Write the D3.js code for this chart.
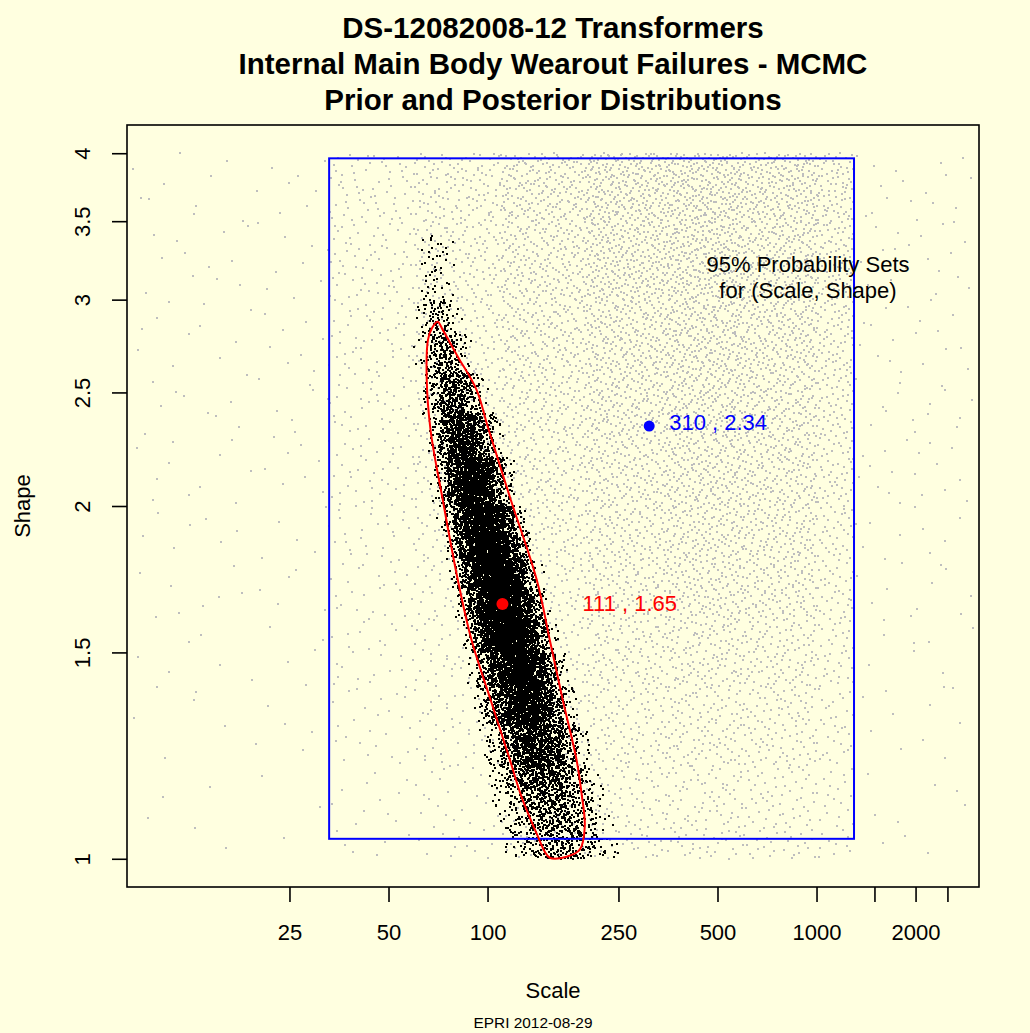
<!DOCTYPE html>
<html>
<head>
<meta charset="utf-8">
<script src="https://cdn.jsdelivr.net/npm/d3@7"></script>
<style>
html,body{margin:0;padding:0;background:#FFFFE0;}
svg{display:block;}
text{font-family:"Liberation Sans",Arial,Helvetica,sans-serif;}
</style>
</head>
<body>
<div id="chart"></div>
<script>
// ---------------- data ----------------
const titleLines = ["DS-12082008-12 Transformers",
                    "Internal Main Body Wearout Failures - MCMC",
                    "Prior and Posterior Distributions"];
const xLabel = "Scale";
const yLabel = "Shape";
const footer = "EPRI 2012-08-29";

const xDataRange = [10, 2500];
const yDataRange = [1, 4];
const xTicks = [25, 50, 100, 250, 500, 1000, 1500, 2000, 2500];
const xTickLabels = ["25", "50", "100", "250", "500", "1000", "", "2000", ""];
const yTicks = [1, 1.5, 2, 2.5, 3, 3.5, 4];
const yTickLabels = ["1", "1.5", "2", "2.5", "3", "3.5", "4"];

// 95% prior set (blue rectangle)
const priorBoxScale = [33, 1300];
const priorBoxShape = [1.04, 3.96];
// prior point estimate (blue) and posterior point estimate (red)
const priorPoint = [310, 2.34];
const posteriorPoint = [111, 1.65];
const annotLines = ["95% Probability Sets", "for (Scale, Shape)"];

// 95% posterior contour (red)
const contourScale = [70.5, 73.1, 81.2, 92.6, 100.2, 117.7, 141.1, 154.6, 169.3, 186.4, 193.0, 197.5, 190.7, 173.8,
                      154.6, 149.3, 142.2, 126.8, 116.9, 102.2, 89.4, 81.2, 73.1, 67.1, 65.3, 65.9, 67.8];
const contourShape = [2.872, 2.827, 2.682, 2.513, 2.336, 2.024, 1.730, 1.537, 1.366, 1.215, 1.138, 1.0655, 1.018, 1.004,
                      1.002, 1.014, 1.045, 1.130, 1.215, 1.366, 1.537, 1.730, 2.024, 2.322, 2.579, 2.772, 2.838];

// posterior MCMC cloud (black), summarised by shape bands
const postShapeEdges = [1.0, 1.05, 1.1, 1.15, 1.2, 1.3, 1.4, 1.5, 1.6, 1.7, 1.8, 1.9, 2.0, 2.2, 2.4, 2.6, 2.8, 3.0, 3.4];
const postCenterScale = [168, 160, 154, 148, 141, 131, 124, 117, 111, 106, 101, 97, 91, 85, 79, 74, 71, 69];
const postSpreadLog10 = [0.075, 0.07, 0.068, 0.066, 0.062, 0.058, 0.055, 0.053, 0.052, 0.051, 0.05, 0.049, 0.047, 0.044, 0.04, 0.034, 0.029, 0.026];
const postCounts = [220, 260, 320, 400, 1000, 1320, 1540, 1640, 1600, 1460, 1260, 1030, 1440, 790, 400, 190, 85, 45];

// prior MCMC cloud (grey), counts per cell
const priorScaleEdges = [8.3, 20, 33, 60, 110, 200, 350, 600, 1000, 1300, 3000];
const priorShapeEdges = [1.0, 1.2, 1.4, 1.6, 1.8, 2.0, 2.3, 2.6, 3.0, 3.5, 4.0];
const priorCounts = [ // rows bottom (shape 1.0-1.2) to top (3.5-4.0)
  [5, 3, 17, 34, 67, 94, 101, 85, 29, 9],
  [6, 4, 24, 48, 76, 105, 118, 104, 32, 10],
  [7, 5, 25, 49, 81, 115, 132, 111, 35, 10],
  [8, 5, 25, 50, 87, 120, 143, 123, 38, 11],
  [7, 5, 27, 52, 91, 120, 140, 122, 36, 10],
  [11, 8, 43, 77, 137, 175, 207, 174, 55, 18],
  [10, 7, 38, 83, 134, 181, 200, 165, 52, 15],
  [11, 8, 53, 105, 176, 230, 252, 209, 69, 18],
  [12, 9, 67, 133, 210, 283, 298, 242, 81, 20],
  [11, 7, 64, 120, 202, 263, 274, 220, 77, 17]
];

// ---------------- layout ----------------
const W = 1030, H = 1033;
const L = 127, R = 979, T = 125, B = 887;

function extendLog(r) {
  const a = Math.log10(r[0]), b = Math.log10(r[1]);
  const e = (b - a) * 0.04;
  return [Math.pow(10, a - e), Math.pow(10, b + e)];
}
const x = d3.scaleLog().domain(extendLog(xDataRange)).range([L, R]);
const y = d3.scaleLog().domain(extendLog(yDataRange)).range([B, T]);

// deterministic low-discrepancy sequence for placing cloud points
function halton(i, b) { let f = 1, r = 0; while (i > 0) { f /= b; r += f * (i % b); i = Math.floor(i / b); } return r; }

const svg = d3.select("#chart").append("svg").attr("width", W).attr("height", H);
svg.append("rect").attr("width", W).attr("height", H).attr("fill", "#FFFFE0");

// ----- prior points -----
const priorPts = [];
let idx = 1;
priorCounts.forEach((row, ri) => {
  const s0 = Math.log10(priorShapeEdges[ri]), s1 = Math.log10(priorShapeEdges[ri + 1]);
  row.forEach((n, ci) => {
    const c0 = Math.log10(priorScaleEdges[ci]), c1 = Math.log10(priorScaleEdges[ci + 1]);
    for (let k = 0; k < n; k++, idx++) {
      const u = halton(idx, 2), v = halton(idx, 3);
      priorPts.push([Math.pow(10, c0 + u * (c1 - c0)), Math.pow(10, s0 + v * (s1 - s0))]);
    }
  });
});
svg.append("g").attr("fill", "#bebebe").attr("shape-rendering", "crispEdges")
  .selectAll("rect").data(priorPts).join("rect")
  .attr("x", d => Math.round(x(d[0])) - 1).attr("y", d => Math.round(y(d[1])) - 1)
  .attr("width", 2).attr("height", 2);

// ----- posterior points -----
const postPts = [];
let j = 1;
postCounts.forEach((n, bi) => {
  const s0 = Math.log10(postShapeEdges[bi]), s1 = Math.log10(postShapeEdges[bi + 1]);
  const c = Math.log10(postCenterScale[bi]), sd = postSpreadLog10[bi];
  for (let k = 0; k < n; k++, j++) {
    const v = halton(j, 2);
    const z = (halton(j, 3) + halton(j, 5) + halton(j, 7) - 1.5) * 2;
    postPts.push([Math.pow(10, c + z * sd), Math.pow(10, s0 + v * (s1 - s0))]);
  }
});
svg.append("g").attr("fill", "#000").attr("shape-rendering", "crispEdges")
  .selectAll("rect").data(postPts).join("rect")
  .attr("x", d => Math.round(x(d[0])) - 1).attr("y", d => Math.round(y(d[1])) - 1)
  .attr("width", 2).attr("height", 2);

// ----- prior 95% box -----
svg.append("rect")
  .attr("x", x(priorBoxScale[0])).attr("y", y(priorBoxShape[1]))
  .attr("width", x(priorBoxScale[1]) - x(priorBoxScale[0]))
  .attr("height", y(priorBoxShape[0]) - y(priorBoxShape[1]))
  .attr("fill", "none").attr("stroke", "#0000FF").attr("stroke-width", 2);

// ----- posterior 95% contour -----
const contour = contourScale.map((s, i) => [s, contourShape[i]]);
svg.append("path").datum(contour)
  .attr("d", d3.line().x(d => x(d[0])).y(d => y(d[1])).curve(d3.curveCatmullRomClosed.alpha(0.5)))
  .attr("fill", "none").attr("stroke", "#FF0000").attr("stroke-width", 2);

// ----- point estimates -----
svg.append("circle").attr("cx", x(posteriorPoint[0])).attr("cy", y(posteriorPoint[1])).attr("r", 6).attr("fill", "#FF0000");
svg.append("text").attr("x", x(posteriorPoint[0]) + 80).attr("y", y(posteriorPoint[1]) + 7)
  .attr("font-size", 22).attr("fill", "#FF0000").text(`${posteriorPoint[0]} , ${posteriorPoint[1].toFixed(2)}`);
svg.append("circle").attr("cx", x(priorPoint[0])).attr("cy", y(priorPoint[1])).attr("r", 5.5).attr("fill", "#0000FF");
svg.append("text").attr("x", x(priorPoint[0]) + 20).attr("y", y(priorPoint[1]) + 4)
  .attr("font-size", 22).attr("fill", "#0000FF").text(`${priorPoint[0]} , ${priorPoint[1].toFixed(2)}`);

svg.append("g").selectAll("text").data(annotLines).join("text")
  .attr("x", 808).attr("y", (d, i) => 272 + i * 26)
  .attr("text-anchor", "middle").attr("font-size", 22).attr("fill", "#000").text(d => d);

// ----- frame -----
svg.append("rect").attr("x", L).attr("y", T).attr("width", R - L).attr("height", B - T)
  .attr("fill", "none").attr("stroke", "#000").attr("stroke-width", 1.6);

// ----- axes -----
const gx = svg.append("g").attr("transform", `translate(0,${B})`)
  .call(d3.axisBottom(x).tickValues(xTicks).tickFormat((d, i) => xTickLabels[i]).tickSize(15));
gx.select(".domain").remove();
gx.selectAll(".tick line").attr("stroke", "#000").attr("stroke-width", 1.6);
gx.selectAll(".tick text").attr("y", 53).attr("dy", null).attr("font-size", 22).attr("fill", "#000")
  .attr("font-family", "Liberation Sans, Arial, sans-serif");

const gy = svg.append("g").attr("transform", `translate(${L},0)`)
  .call(d3.axisLeft(y).tickValues(yTicks).tickFormat((d, i) => yTickLabels[i]).tickSize(15));
gy.select(".domain").remove();
gy.selectAll(".tick line").attr("stroke", "#000").attr("stroke-width", 1.6);
gy.selectAll(".tick text").attr("transform", "rotate(-90)").attr("x", 0).attr("y", -(L - 90)).attr("dy", null)
  .attr("text-anchor", "middle").attr("font-size", 22).attr("fill", "#000")
  .attr("font-family", "Liberation Sans, Arial, sans-serif");

// ----- titles & labels -----
svg.append("g").selectAll("text").data(titleLines).join("text")
  .attr("x", (L + R) / 2).attr("y", (d, i) => 38 + i * 36)
  .attr("text-anchor", "middle").attr("font-size", 29.5).attr("font-weight", "bold").attr("fill", "#000").text(d => d);
svg.append("text").attr("x", (L + R) / 2).attr("y", 998).attr("text-anchor", "middle")
  .attr("font-size", 22).attr("fill", "#000").text(xLabel);
svg.append("text").attr("transform", `translate(30,${(T + B) / 2}) rotate(-90)`).attr("text-anchor", "middle")
  .attr("font-size", 22).attr("fill", "#000").text(yLabel);
svg.append("text").attr("x", 533).attr("y", 1028).attr("text-anchor", "middle")
  .attr("font-size", 15.4).attr("fill", "#000").text(footer);
</script>
</body>
</html>
